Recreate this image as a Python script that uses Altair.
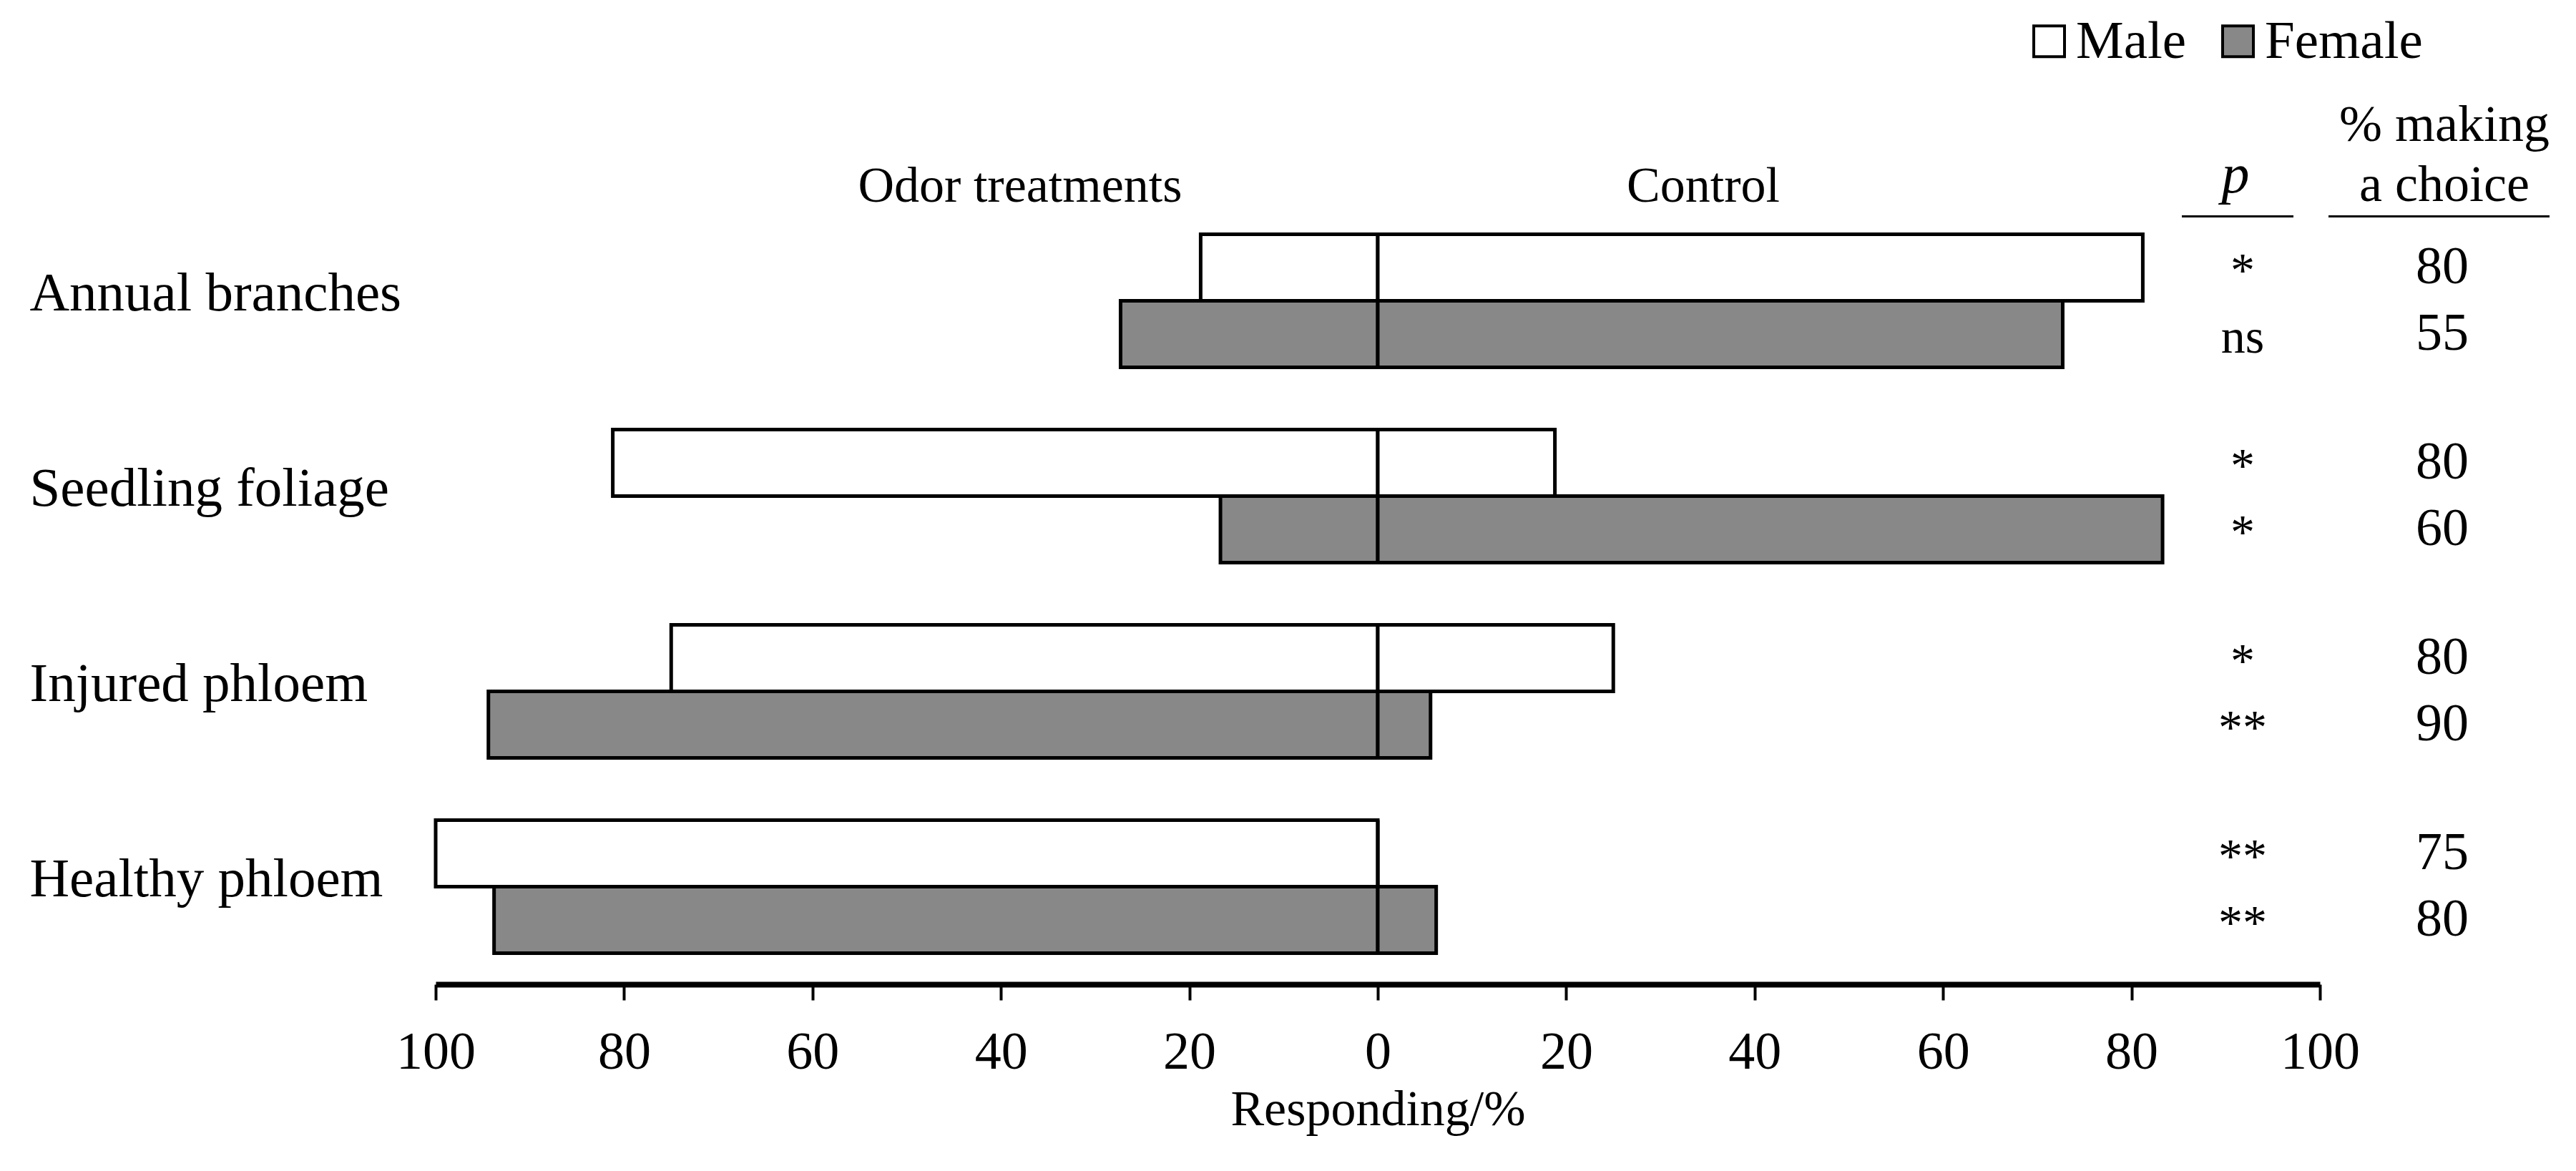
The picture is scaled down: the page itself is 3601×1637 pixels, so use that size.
import altair as alt
import pandas as pd

# ---- data ----
categories = ["Annual branches", "Seedling foliage", "Injured phloem", "Healthy phloem"]
sexes = ["Male", "Female"]
male_odor = [18.8, 81.2, 75.0, 100.0]
male_control = [81.2, 18.8, 25.0, 0.0]
female_odor = [27.3, 16.7, 94.4, 93.8]
female_control = [72.7, 83.3, 5.6, 6.2]
p_male = ["*", "*", "*", "**"]
p_female = ["ns", "*", "**", "**"]
choice_male = [80, 80, 80, 75]
choice_female = [55, 60, 90, 80]
tick_values = [-100, -80, -60, -40, -20, 0, 20, 40, 60, 80, 100]

FONT = "Liberation Serif"

# ---- tables built from the arrays ----
bar_rows = []
ann_rows = []
for i, cat in enumerate(categories):
    for sex, odor, ctrl, p, ch in [
        ("Male", male_odor[i], male_control[i], p_male[i], choice_male[i]),
        ("Female", female_odor[i], female_control[i], p_female[i], choice_female[i]),
    ]:
        bar_rows.append({"category": cat, "sex": sex, "side": "Odor", "start": -odor, "end": 0})
        bar_rows.append({"category": cat, "sex": sex, "side": "Control", "start": 0, "end": ctrl})
        ann_rows.append({"category": cat, "sex": sex, "p": p, "choice": ch})
bars_df = pd.DataFrame(bar_rows)
ann_df = pd.DataFrame(ann_rows)

y_axis = alt.Axis(title=None, domain=False, ticks=False, tickSize=0,
                  labelAlign="left", labelPadding=568, labelFont=FONT,
                  labelFontSize=77, labelColor="black", labelBaseline="middle",
                  labelOffset=-10, labelLimit=0)
y_enc = alt.Y("category:N", sort=categories,
              scale=alt.Scale(paddingInner=0, paddingOuter=0), axis=y_axis)
yoff_enc = alt.YOffset("sex:N", sort=sexes,
                       scale=alt.Scale(paddingInner=0, paddingOuter=0.468))

bars = alt.Chart(bars_df).mark_bar(stroke="black", strokeWidth=5, strokeJoin="miter").encode(
    x=alt.X("start:Q",
            scale=alt.Scale(domain=[-100, 100], nice=False, zero=False),
            axis=alt.Axis(values=tick_values, labelExpr="abs(datum.value)",
                          title="Responding/%", titleFont=FONT, titleFontSize=70,
                          titleFontWeight="normal", titleColor="black",
                          titleY=196, titleBaseline="alphabetic",
                          domainColor="black", domainWidth=8,
                          tickColor="black", tickWidth=4, tickSize=22,
                          labelPadding=37, labelFont=FONT, labelFontSize=74,
                          labelColor="black", labelFlush=False, grid=False)),
    x2="end:Q",
    y=y_enc,
    yOffset=yoff_enc,
    fill=alt.Fill("sex:N",
                  scale=alt.Scale(domain=sexes, range=["#ffffff", "#888888"]),
                  legend=alt.Legend(title=None, orient="none", legendX=2218, legendY=-264,
                                    direction="horizontal", symbolType="square",
                                    symbolSize=1849, symbolStrokeColor="black",
                                    symbolStrokeWidth=4, symbolOpacity=1,
                                    labelFont=FONT, labelFontSize=75, labelColor="black",
                                    labelOffset=0, labelLimit=0, columnPadding=34,
                                    padding=0)),
)

p_text = alt.Chart(ann_df).mark_text(font=FONT, fontSize=68, align="center",
                                     baseline="middle", dy=6, color="black").encode(
    x=alt.value(2526), y=alt.Y("category:N", sort=categories),
    yOffset=alt.YOffset("sex:N", sort=sexes), text="p:N")

choice_text = alt.Chart(ann_df).mark_text(font=FONT, fontSize=74, align="center",
                                          baseline="middle", color="black").encode(
    x=alt.value(2805), y=alt.Y("category:N", sort=categories),
    yOffset=alt.YOffset("sex:N", sort=sexes), text="choice:Q")


def header(txt, x, y, size=70, style="normal"):
    return alt.Chart(alt.Data(values=[{"t": txt}])).mark_text(
        font=FONT, fontSize=size, fontStyle=style, align="center",
        baseline="alphabetic", color="black").encode(
        x=alt.value(x), y=alt.value(y), text="t:N")


def underline(x1, x2, y):
    return alt.Chart(alt.Data(values=[{"a": 1}])).mark_rule(
        stroke="black", strokeWidth=3).encode(
        x=alt.value(x1), x2=alt.value(x2), y=alt.value(y))


headers = [
    header("Odor treatments", 817, -2.5),
    header("Control", 1772, -2.5),
    header("p", 2516, -15, size=78, style="italic"),
    header("% making", 2808, -87, size=72),
    header("a choice", 2808, -3, size=72),
    underline(2441, 2597, 18.5),
    underline(2646, 2955, 18.5),
]

chart = alt.layer(bars, p_text, choice_text, *headers).properties(
    width=2634, height=1092,
    autosize=alt.AutoSizeParams(type="none"),
    padding={"left": 601, "top": 276, "right": 350, "bottom": 250},
).configure_view(strokeWidth=0)

chart.save("out.html", embed_options={"renderer": "svg", "actions": False})
